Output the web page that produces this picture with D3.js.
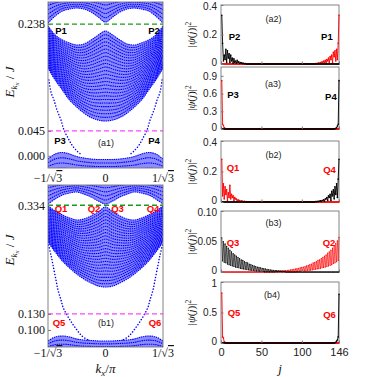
<!DOCTYPE html>
<html>
<head>
<meta charset="utf-8">
<script src="https://cdnjs.cloudflare.com/ajax/libs/d3/7.8.5/d3.min.js"></script>
<style>
  body { margin: 0; background: #fff; }
  svg { display: block; }
</style>
</head>
<body>
<svg id="fig" width="374" height="377"></svg>
<script>
// ---- band panels (a1), (b1): kx in units of 1/sqrt(3), energies in J ----
var kxGrid = [-1, -0.875, -0.75, -0.625, -0.5, -0.375, -0.25, -0.125, 0,
              0.125, 0.25, 0.375, 0.5, 0.625, 0.75, 0.875, 1];
var kxTicks = [-1, 0, 1];
var kxTickText = [["−1/√", "3"], ["0", ""], ["1/√", "3"]];

// (a1) envelopes
var a1Range = [-0.022, 0.278];
var a1Ticks = [0, 0.045, 0.238];
var a1TickText = ["0.000", "0.045", "0.238"];
var a1GapTop = [0.2400, 0.2527, 0.2617, 0.2653, 0.2671, 0.2653, 0.2599, 0.2509, 0.2418,
                0.2509, 0.2599, 0.2653, 0.2671, 0.2653, 0.2617, 0.2527, 0.2400];
var a1GapBot = [0.2346, 0.2183, 0.2093, 0.2039, 0.2003, 0.2021, 0.2093, 0.2183, 0.2255,
                0.2183, 0.2093, 0.2021, 0.2003, 0.2039, 0.2093, 0.2183, 0.2346];
var a1BulkBot = [0.1587, 0.1370, 0.1189, 0.1008, 0.0882, 0.0774, 0.0692, 0.0647, 0.0629,
                 0.0647, 0.0692, 0.0774, 0.0882, 0.1008, 0.1189, 0.1370, 0.1587];
var a1LowTop = [-0.0058, 0.0033, 0.0060, 0.0033, -0.0013, -0.0040, -0.0058, -0.0067, -0.0067,
                -0.0067, -0.0058, -0.0040, -0.0013, 0.0033, 0.0060, 0.0033, -0.0058];
var a1EdgeLK = [-0.983, -0.948, -0.896, -0.843, -0.774, -0.722, -0.652, -0.583, -0.496, -0.409];
var a1EdgeLE = [0.137, 0.1153, 0.1008, 0.0828, 0.0647, 0.0466, 0.0322, 0.0195, 0.0087, 0.0014];
var a1EdgeRK = [0.983, 0.948, 0.896, 0.843, 0.774, 0.722, 0.652, 0.583, 0.496, 0.409];
var a1EdgeRE = [0.137, 0.1153, 0.1008, 0.0828, 0.0647, 0.0466, 0.0322, 0.0195, 0.0087, 0.0014];
var a1Green = 0.238, a1Magenta = 0.045;

// (b1)
var b1Range = [0.068, 0.372];
var b1Ticks = [0.100, 0.130, 0.334];
var b1TickText = ["0.100", "0.130", "0.334"];
var b1GapTop = [0.3363, 0.3457, 0.3532, 0.3570, 0.3589, 0.3551, 0.3495, 0.3420, 0.3363,
                0.3420, 0.3495, 0.3551, 0.3589, 0.3570, 0.3532, 0.3457, 0.3363];
var b1GapBot = [0.3325, 0.3231, 0.3157, 0.3100, 0.3063, 0.3082, 0.3138, 0.3214, 0.3306,
                0.3214, 0.3138, 0.3082, 0.3063, 0.3100, 0.3157, 0.3231, 0.3325];
var b1BulkBot = [0.2650, 0.2463, 0.2294, 0.2163, 0.2050, 0.1956, 0.1881, 0.1825, 0.1806,
                 0.1825, 0.1881, 0.1956, 0.2050, 0.2163, 0.2294, 0.2463, 0.2650];
var b1LowTop = [0.0793, 0.0868, 0.0886, 0.0868, 0.0830, 0.0811, 0.0802, 0.0793, 0.0793,
                0.0793, 0.0802, 0.0811, 0.0830, 0.0868, 0.0886, 0.0868, 0.0793];
var b1EdgeLK = [-0.991, -0.948, -0.913, -0.861, -0.826, -0.774, -0.739, -0.670, -0.583, -0.496, -0.409, -0.304];
var b1EdgeLE = [0.2594, 0.2406, 0.2219, 0.1937, 0.1750, 0.1562, 0.1431, 0.1280, 0.1130, 0.0999, 0.0886, 0.0811];
var b1EdgeRK = [0.991, 0.948, 0.913, 0.861, 0.826, 0.774, 0.739, 0.670, 0.583, 0.496, 0.409, 0.304];
var b1EdgeRE = [0.2594, 0.2406, 0.2219, 0.1937, 0.1750, 0.1562, 0.1431, 0.1280, 0.1130, 0.0999, 0.0886, 0.0811];
var b1Green = 0.334, b1Magenta = 0.130;

// ---- profile panels: |psi(j)|^2, j = 1..146 ----
var nSites = 146;
// left-edge lists start at j = 1, right-edge lists start at j = 146 and run inward
var a2P2Left = [0.33, 0.14, 0.02, 0.06, 0.03, 0.10, 0.01, 0.09, 0.04, 0.07, 0.01, 0.06, 0.02, 0.04, 0.005,
                0.035, 0.01, 0.02, 0.005, 0.025, 0.01, 0.015, 0.003, 0.01, 0.005, 0.008, 0.002, 0.005, 0.002, 0.003];
var a2P1Right = [0.33, 0.14, 0.03, 0.10, 0.02, 0.09, 0.05, 0.08, 0.01, 0.06, 0.03, 0.05, 0.01, 0.04, 0.02,
                 0.03, 0.005, 0.025, 0.01, 0.02, 0.005, 0.015, 0.005, 0.01, 0.003, 0.008, 0.002, 0.005, 0.002, 0.003];
var a3P3Left = [0.82, 0.08, 0.06, 0.02, 0.01, 0.004, 0.002, 0.001];
var a3P4Right = [0.82, 0.08, 0.05, 0.02, 0.01, 0.004, 0.002, 0.001];
var b2Q1Left = [0.28, 0.04, 0.12, 0.02, 0.10, 0.05, 0.08, 0.01, 0.06, 0.03, 0.11, 0.02, 0.05, 0.03, 0.04, 0.01,
                0.03, 0.02, 0.02, 0.005, 0.015, 0.01, 0.01, 0.003, 0.008, 0.005, 0.005, 0.002, 0.004, 0.002, 0.003];
var b2Q4Right = [0.28, 0.15, 0.03, 0.12, 0.05, 0.10, 0.02, 0.08, 0.04, 0.07, 0.01, 0.05, 0.03, 0.04, 0.01, 0.03,
                 0.02, 0.02, 0.005, 0.015, 0.01, 0.01, 0.003, 0.008, 0.005, 0.005, 0.002, 0.004, 0.002, 0.003];
// (b3) alternates between odd-site and even-site values
var b3Q3OddLeft = [0.056, 0.050, 0.046, 0.042, 0.039, 0.036, 0.033, 0.030, 0.028, 0.026, 0.024, 0.022, 0.020,
                   0.019, 0.017, 0.016, 0.015, 0.013, 0.012, 0.011, 0.010, 0.009, 0.008, 0.0075, 0.007, 0.006,
                   0.0055, 0.005, 0.0045, 0.004, 0.0035, 0.003, 0.0028, 0.0025, 0.0022, 0.002, 0.0018, 0.0015, 0.0012, 0.001];
var b3Q3EvenLeft = [0.018, 0.016, 0.015, 0.013, 0.012, 0.011, 0.010, 0.009, 0.008, 0.0075, 0.007, 0.006, 0.0055,
                    0.005, 0.0045, 0.004, 0.0035, 0.003, 0.0028, 0.0025, 0.002, 0.0018, 0.0016, 0.0014, 0.0012, 0.001];
var b3Q2OddRight = [0.057, 0.051, 0.047, 0.043, 0.039, 0.036, 0.033, 0.031, 0.028, 0.026, 0.024, 0.022, 0.020,
                    0.019, 0.017, 0.016, 0.015, 0.013, 0.012, 0.011, 0.010, 0.009, 0.008, 0.0075, 0.007, 0.006,
                    0.0055, 0.005, 0.0045, 0.004, 0.0035, 0.003, 0.0028, 0.0025, 0.0022, 0.002, 0.0018, 0.0015, 0.0012, 0.001];
var b3Q2EvenRight = [0.019, 0.017, 0.015, 0.014, 0.012, 0.011, 0.010, 0.009, 0.008, 0.0075, 0.007, 0.006, 0.0055,
                     0.005, 0.0045, 0.004, 0.0035, 0.003, 0.0028, 0.0025, 0.002, 0.0018, 0.0016, 0.0014, 0.0012, 0.001];
var b4Q5Left = [0.82, 0.10, 0.08, 0.02, 0.01, 0.003];
var b4Q6Right = [0.80, 0.10, 0.05, 0.03, 0.01, 0.003];
var jTicks = [0, 50, 100, 146];

var svg = d3.select("#fig");
var serif = "'Liberation Serif', 'DejaVu Serif', serif";
var sans = "'Liberation Sans', Arial, sans-serif";
var frameColor = "#777";

// build a full 146-site series from an edge list (side: "L" or "R")
function edgeSeries(vals, side) {
  return d3.range(1, nSites + 1).map(function(j) {
    var n = side === "L" ? j - 1 : nSites - j;
    return n < vals.length ? vals[n] : 0;
  });
}
function alternatingSeries(odd, even, side) {
  return d3.range(1, nSites + 1).map(function(j) {
    var n = side === "L" ? j : nSites + 1 - j;   // 1-based distance from the edge
    var arr = n % 2 ? odd : even;
    var idx = n % 2 ? (n - 1) / 2 : n / 2 - 1;
    return idx < arr.length ? arr[idx] : 0;
  });
}

// ================= band panels =================
var bandX = d3.scaleLinear().domain([-1, 1]).range([48, 163]);

var bandPanels = [
  { id: "a1", top: 2, bottom: 168, range: a1Range, ticks: a1Ticks, tickText: a1TickText,
    gapTop: a1GapTop, gapBot: a1GapBot, bulkBot: a1BulkBot, lowTop: a1LowTop,
    edges: [[a1EdgeLK, a1EdgeLE], [a1EdgeRK, a1EdgeRE]], green: a1Green, magenta: a1Magenta,
    labelY: 82, tickY: 182, xlabel: false, markColor: "#000",
    marks: [["P1", -0.774, 0.220], ["P2", 0.843, 0.220], ["P3", -0.791, 0.0213], ["P4", 0.843, 0.0213]],
    tag: ["(a1)", 0.01, 0.0177] },
  { id: "b1", top: 185, bottom: 347, range: b1Range, ticks: b1Ticks, tickText: b1TickText,
    gapTop: b1GapTop, gapBot: b1GapBot, bulkBot: b1BulkBot, lowTop: b1LowTop,
    edges: [[b1EdgeLK, b1EdgeLE], [b1EdgeRK, b1EdgeRE]], green: b1Green, magenta: b1Magenta,
    labelY: 250, tickY: 357, xlabel: true, markColor: "#ff0000",
    marks: [["Q1", -0.774, 0.3213], ["Q2", -0.2, 0.3213], ["Q3", 0.209, 0.3213], ["Q4", 0.826, 0.3213],
            ["Q5", -0.809, 0.1074], ["Q6", 0.861, 0.1074]],
    tag: ["(b1)", 0.01, 0.1074] }
];

bandPanels.forEach(function(p) {
  var y = d3.scaleLinear().domain(p.range).range([p.bottom, p.top]);
  var g = svg.append("g");
  g.append("clipPath").attr("id", "clip-" + p.id)
    .append("rect").attr("x", bandX(-1)).attr("y", p.top)
    .attr("width", bandX(1) - bandX(-1)).attr("height", p.bottom - p.top);
  var plot = g.append("g").attr("clip-path", "url(#clip-" + p.id + ")");

  function val(a, i) { return typeof a === "number" ? a : a[i]; }

  // shade a bulk band between its envelopes and thread dotted sub-bands through it
  function band(lo, hi, n) {
    var area = d3.area()
      .x(function(d, i) { return bandX(kxGrid[i]); })
      .y0(function(d, i) { return y(val(lo, i)); })
      .y1(function(d, i) { return y(val(hi, i)); })
      .curve(d3.curveCatmullRom);
    plot.append("path").datum(kxGrid).attr("d", area)
      .attr("fill", "#0000ff").attr("fill-opacity", 0.45);
    for (var m = 0; m < n; m++) {
      var t = m / (n - 1);
      var line = d3.line()
        .x(function(d, i) { return bandX(kxGrid[i]); })
        .y(function(d, i) { return y(val(lo, i) + t * (val(hi, i) - val(lo, i))); })
        .curve(d3.curveCatmullRom);
      plot.append("path").datum(kxGrid).attr("d", line)
        .attr("fill", "none").attr("stroke", "#0000ff")
        .attr("stroke-width", 1.1).attr("stroke-dasharray", "1.5 0.7");
    }
  }
  band(p.gapTop, p.range[1] + 0.01, 7);
  band(p.bulkBot, p.gapBot, 26);
  band(p.range[0] - 0.01, p.lowTop, 5);

  // in-gap edge states
  p.edges.forEach(function(e) {
    var pts = e[0].map(function(k, i) { return [k, e[1][i]]; });
    plot.append("path").datum(pts)
      .attr("d", d3.line().x(function(d) { return bandX(d[0]); }).y(function(d) { return y(d[1]); })
        .curve(d3.curveCatmullRom))
      .attr("fill", "none").attr("stroke", "#0000ff").attr("stroke-width", 1.5)
      .attr("stroke-linecap", "round").attr("stroke-dasharray", "0.1 2.9");
  });

  // reference energies
  [[p.green, "#1a9a1a"], [p.magenta, "#ff44ff"]].forEach(function(h) {
    plot.append("line")
      .attr("x1", bandX(-1)).attr("x2", bandX(1))
      .attr("y1", y(h[0])).attr("y2", y(h[0]))
      .attr("stroke", h[1]).attr("stroke-width", 1.3).attr("stroke-dasharray", "5 3");
  });

  // frame
  g.append("rect").attr("x", bandX(-1)).attr("y", p.top)
    .attr("width", bandX(1) - bandX(-1)).attr("height", p.bottom - p.top)
    .attr("fill", "none").attr("stroke", frameColor).attr("stroke-width", 0.9);

  // y axis
  var ya = g.append("g").attr("transform", "translate(" + bandX(-1) + ",0)")
    .call(d3.axisLeft(y).tickValues(p.ticks).tickSize(-3).tickPadding(3)
      .tickFormat(function(d, i) { return p.tickText[i]; }));
  ya.select(".domain").remove();
  ya.selectAll("line").attr("stroke", frameColor);
  ya.selectAll("text").attr("font-family", serif).attr("font-size", 12).attr("fill", "#111");

  // x tick labels
  kxTicks.forEach(function(k, i) {
    var t = g.append("text").attr("x", bandX(k)).attr("y", p.tickY)
      .attr("text-anchor", "middle").attr("font-family", serif).attr("font-size", 12).attr("fill", "#111");
    t.append("tspan").text(kxTickText[i][0]);
    if (kxTickText[i][1]) t.append("tspan").style("text-decoration", "overline").text(kxTickText[i][1]);
  });

  // y label E_{kx} / J
  var yl = g.append("text")
    .attr("transform", "translate(14," + p.labelY + ") rotate(-90)")
    .attr("text-anchor", "middle").attr("font-family", serif).attr("fill", "#111");
  yl.append("tspan").attr("font-style", "italic").attr("font-size", 13).text("E");
  yl.append("tspan").attr("font-style", "italic").attr("font-size", 9).attr("dy", 3).text("k");
  yl.append("tspan").attr("font-style", "italic").attr("font-size", 7).attr("dy", 2).text("x");
  yl.append("tspan").attr("font-size", 13).attr("dy", -5).text(" / ");
  yl.append("tspan").attr("font-style", "italic").attr("font-size", 13).text("J");

  if (p.xlabel) {
    var xl = g.append("text").attr("x", bandX(0)).attr("y", 373)
      .attr("text-anchor", "middle").attr("font-family", serif).attr("fill", "#111");
    xl.append("tspan").attr("font-style", "italic").attr("font-size", 13).text("k");
    xl.append("tspan").attr("font-style", "italic").attr("font-size", 9).attr("dy", 2.5).text("x");
    xl.append("tspan").attr("font-size", 13).attr("dy", -2.5).text("/");
    xl.append("tspan").attr("font-style", "italic").attr("font-size", 13).text("π");
  }

  p.marks.forEach(function(m) {
    g.append("text").attr("x", bandX(m[1])).attr("y", y(m[2]))
      .attr("text-anchor", "middle").attr("font-family", sans).attr("font-weight", "bold")
      .attr("font-size", 9.5).attr("fill", p.markColor).text(m[0]);
  });
  g.append("text").attr("x", bandX(p.tag[1])).attr("y", y(p.tag[2]))
    .attr("text-anchor", "middle").attr("font-family", sans).attr("font-size", 9)
    .attr("fill", "#222").text(p.tag[0]);
});

// ================= profile panels =================
var siteX = d3.scaleLinear().domain([0, nSites]).range([221, 339]);

var profilePanels = [
  { top: 5, bottom: 64, ymax: 0.4, ticks: [0, 0.2, 0.4], tickText: ["0", "0.2", "0.4"],
    red: edgeSeries(a2P1Right, "R"), black: edgeSeries(a2P2Left, "L"), markColor: "#000",
    marks: [["P2", 16.7, 0.16], ["P1", 131, 0.16]], tag: ["(a2)", 65, 0.287] },
  { top: 67, bottom: 129, ymax: 1.05, ticks: [0, 0.3, 0.6, 0.9], tickText: ["0", "0.3", "0.6", "0.9"],
    red: edgeSeries(a3P3Left, "L"), black: edgeSeries(a3P4Right, "R"), markColor: "#000",
    marks: [["P3", 14.9, 0.525], ["P4", 136, 0.491]], tag: ["(a3)", 64.4, 0.711] },
  { top: 141, bottom: 202, ymax: 0.4, ticks: [0, 0.2, 0.4], tickText: ["0", "0.2", "0.4"],
    red: edgeSeries(b2Q1Left, "L"), black: edgeSeries(b2Q4Right, "R"), markColor: "#ff0000",
    marks: [["Q1", 14.9, 0.203], ["Q4", 134.3, 0.19]], tag: ["(b2)", 65, 0.2885] },
  { top: 211, bottom: 272, ymax: 0.1, ticks: [0, 0.05, 0.1], tickText: ["0", "0.05", "0.10"],
    red: alternatingSeries(b3Q2OddRight, b3Q2EvenRight, "R"),
    black: alternatingSeries(b3Q3OddLeft, b3Q3EvenLeft, "L"), markColor: "#ff0000",
    marks: [["Q3", 14.9, 0.0426], ["Q2", 133.7, 0.0426]], tag: ["(b3)", 65, 0.0754], thin: true },
  { top: 282, bottom: 343, ymax: 1, ticks: [0, 0.5, 1], tickText: ["0", "0.5", "1"],
    red: edgeSeries(b4Q5Left, "L"), black: edgeSeries(b4Q6Right, "R"), markColor: "#ff0000",
    marks: [["Q5", 16.1, 0.443], ["Q6", 134.3, 0.41]], tag: ["(b4)", 63, 0.738], xticks: true }
];

profilePanels.forEach(function(p) {
  var y = d3.scaleLinear().domain([0, p.ymax]).range([p.bottom, p.top]);
  var g = svg.append("g");
  g.append("rect").attr("x", siteX(0)).attr("y", p.top)
    .attr("width", siteX(nSites) - siteX(0)).attr("height", p.bottom - p.top)
    .attr("fill", "none").attr("stroke", frameColor).attr("stroke-width", 0.9);

  [[p.red, "#ff0000"], [p.black, "#000"]].forEach(function(s) {
    g.append("path").datum(s[0])
      .attr("d", d3.line().x(function(d, i) { return siteX(i + 1); }).y(function(d) { return y(d); }))
      .attr("fill", "none").attr("stroke", s[1]).attr("stroke-width", p.thin ? 0.6 : 0.9);
    g.selectAll(null).data(s[0]).join("circle")
      .attr("cx", function(d, i) { return siteX(i + 1); }).attr("cy", function(d) { return y(d); })
      .attr("r", p.thin ? 0.6 : 0.8).attr("fill", s[1]);
  });

  var ya = g.append("g").attr("transform", "translate(" + siteX(0) + ",0)")
    .call(d3.axisLeft(y).tickValues(p.ticks).tickSize(-2.5).tickPadding(4)
      .tickFormat(function(d, i) { return p.tickText[i]; }));
  ya.select(".domain").remove();
  ya.selectAll("line").attr("stroke", frameColor);
  // stacked panels: keep the end labels of neighbouring axes apart
  ya.selectAll("text").attr("font-family", sans).attr("font-size", 10).attr("fill", "#222")
    .attr("dy", function(d) { return d === 0 ? "0.1em" : (d === p.ymax ? "0.45em" : "0.32em"); });

  var xa = g.append("g").attr("transform", "translate(0," + p.bottom + ")")
    .call(d3.axisBottom(siteX).tickValues(jTicks).tickSize(-2.5).tickPadding(5)
      .tickFormat(p.xticks ? d3.format("d") : ""));
  xa.select(".domain").remove();
  xa.selectAll("line").attr("stroke", frameColor);
  xa.selectAll("text").attr("font-family", sans).attr("font-size", 11).attr("fill", "#222");

  // |psi(j)|^2
  var yl = g.append("text")
    .attr("transform", "translate(195," + (p.top + p.bottom) / 2 + ") rotate(-90)")
    .attr("text-anchor", "middle").attr("font-family", serif).attr("font-size", 11).attr("fill", "#111");
  yl.append("tspan").text("|");
  yl.append("tspan").attr("font-style", "italic").text("ψ");
  yl.append("tspan").text("(");
  yl.append("tspan").attr("font-style", "italic").text("j");
  yl.append("tspan").text(")|");
  yl.append("tspan").attr("font-size", 7.5).attr("dy", -4).text("2");

  p.marks.forEach(function(m) {
    g.append("text").attr("x", siteX(m[1])).attr("y", y(m[2]))
      .attr("text-anchor", "middle").attr("font-family", sans).attr("font-weight", "bold")
      .attr("font-size", 9.5).attr("fill", p.markColor).text(m[0]);
  });
  g.append("text").attr("x", siteX(p.tag[1])).attr("y", y(p.tag[2]))
    .attr("text-anchor", "middle").attr("font-family", sans).attr("font-size", 9)
    .attr("fill", "#222").text(p.tag[0]);
});

svg.append("text").attr("x", siteX(73)).attr("y", 373)
  .attr("text-anchor", "middle").attr("font-family", serif).attr("font-style", "italic")
  .attr("font-size", 13).attr("fill", "#111").text("j");
</script>
</body>
</html>
